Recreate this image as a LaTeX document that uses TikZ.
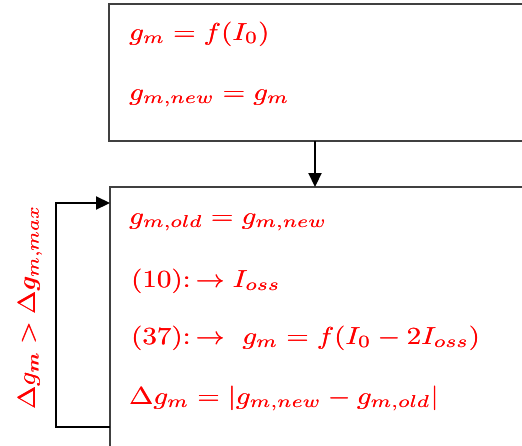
\documentclass[tikz,border=0pt]{standalone}
\usepackage{graphicx}
\usetikzlibrary{arrows.meta}
\newcommand{\heavy}[1]{\rlap{$#1$}\kern0.07pt$#1$}
\newcommand{\bigeq}[1]{\scalebox{2.9}[2.45]{\heavy{#1}}}
\newcommand{\labeq}[1]{\scalebox{2.8}[2.45]{\heavy{#1}}}
\begin{document}
\begin{tikzpicture}[x=1pt,y=-1pt,
  box/.style={draw=black!75,line width=1.4pt,anchor=north west,inner sep=0pt,outer sep=0pt},
  eq/.style={text=red,anchor=base west,inner sep=0pt},
  conn/.style={line width=2.2pt,-{Triangle[length=14pt,width=13pt]}}]
\clip (0,0) rectangle (522,445);
\useasboundingbox (0,0) rectangle (522,445);
\node[box,minimum width=430pt,minimum height=137pt] (top) at (109,4) {};
\node[box,minimum width=430pt,minimum height=280pt] (bot) at (110,187) {};
\coordinate (c1) at (56,427);
\coordinate (c2) at (56,203);
\draw[conn] (top.south -| 315,0) -- (bot.north -| 315,0);
\draw[conn] (bot.west |- c1) -- (c1) -- (c2) -- (bot.west |- c2);
\node[eq] (t1) at (129,40) {\bigeq{g_m = f(I_0)}};
\node[eq] (t2) at (129,100) {\bigeq{g_{m,new} = g_m}};
\node[eq] (b1) at (129,224) {\bigeq{g_{m,old} = g_{m,new}}};
\node[eq] (b2) at (131,287) {\bigeq{(10)\colon \to I_{oss}}};
\node[eq] (b3) at (131,344) {\bigeq{(37)\colon \to\ g_m = f(I_0 - 2I_{oss})}};
\node[eq] (b4) at (129,404) {\bigeq{\Delta g_m = |g_{m,new} - g_{m,old}|}};
\node[eq,rotate=90] (lab) at (35,410) {\labeq{\Delta g_m > \Delta g_{m,max}}};
\end{tikzpicture}
\end{document}
